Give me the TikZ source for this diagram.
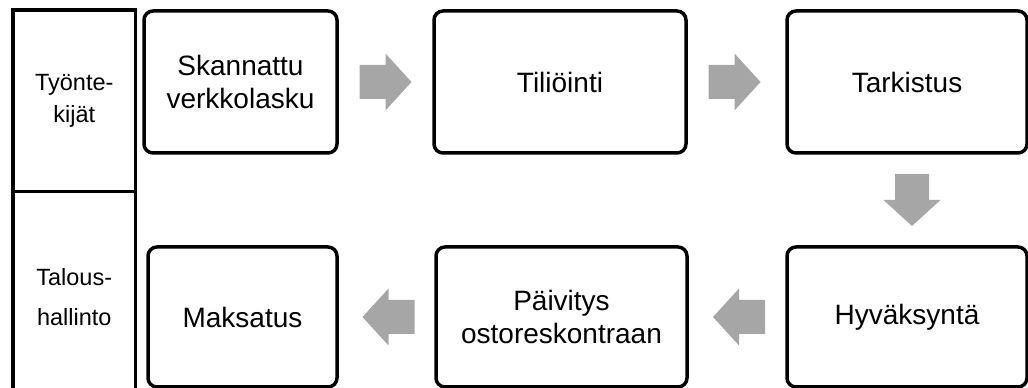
\documentclass[tikz,border=0pt]{standalone}
\usepackage{fontspec}
\setmainfont{Liberation Sans}
\definecolor{arrowgray}{RGB}{166,166,166}
\tikzset{
    stepbox/.style={draw, line width=3.5pt, rounded corners=9pt, align=center,
        font=\fontsize{28}{33}\selectfont},
    lanebox/.style={draw, line width=3.5pt, align=center, inner sep=0pt,
        font=\fontsize{23.5}{32}\selectfont},
    blockarr/.pic={\fill[arrowgray] (-26,-17) -- (0,-17) -- (0,-28.5) -- (26,0)
        -- (0,28.5) -- (0,17) -- (-26,17) -- cycle;}
}
\begin{document}
\begin{tikzpicture}[x=1pt, y=1pt]
    \useasboundingbox (0,0) rectangle (1028,388);
    % swimlanes
    \node[lanebox, minimum width=122.5, minimum height=181.5] (tyontekijat) at (74.25,287.25) {Työnte-\\kijät};
    \node[lanebox, minimum width=122.5, minimum height=211.5] (talous) at (74.25,90.75) {Talous-\\[8pt]hallinto};
    % top row
    \node[stepbox, minimum width=193, minimum height=142] (skannattu) at (240.5,306) {Skannattu\\verkkolasku};
    \node[stepbox, minimum width=252, minimum height=142] (tiliointi) at (560,306) {Tiliöinti};
    \node[stepbox, minimum width=240, minimum height=142] (tarkistus) at (907,306) {Tarkistus};
    % bottom row
    \node[stepbox, minimum width=189, minimum height=140] (maksatus) at (242.5,71) {Maksatus};
    \node[stepbox, minimum width=251, minimum height=140] (paivitys) at (561.5,71) {Päivitys\\ostoreskontraan};
    \node[stepbox, minimum width=240, minimum height=140] (hyvaksynta) at (907,71) {Hyväksyntä};
    % arrows
    \path (skannattu.east) -- coordinate (a1) (tiliointi.west);
    \path (tiliointi.east) -- coordinate (a2) (tarkistus.west);
    \path (tarkistus.south) -- coordinate (a3) (hyvaksynta.north);
    \path (hyvaksynta.west) -- coordinate (a4) (paivitys.east);
    \path (paivitys.west) -- coordinate (a5) (maksatus.east);
    \pic at (a1) {blockarr};
    \pic at ([xshift=-2]a2) {blockarr};
    \pic[rotate=-90] at ([xshift=5]a3) {blockarr};
    \pic[rotate=180] at ([xshift=2]a4) {blockarr};
    \pic[rotate=180] at ([xshift=2]a5) {blockarr};
\end{tikzpicture}
\end{document}
